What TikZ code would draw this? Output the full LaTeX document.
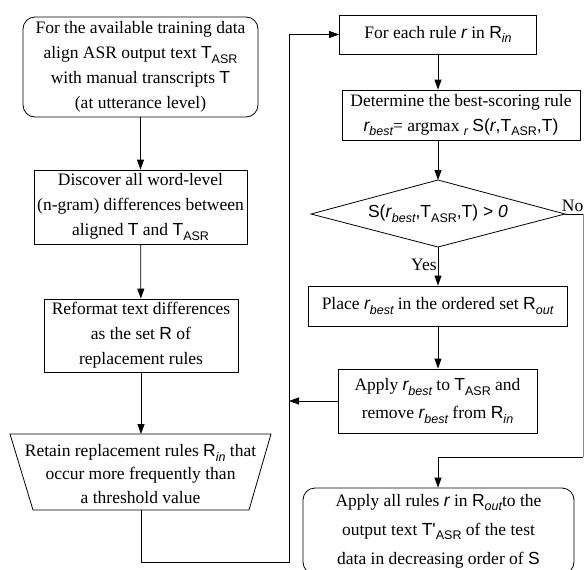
\documentclass[tikz,border=0pt]{standalone}
\usepackage{fontspec}
\setmainfont{Liberation Serif}
\newfontfamily\hw{Liberation Sans}
\usetikzlibrary{arrows.meta}
\newcommand\mainsize{\fontsize{17.5}{25}\selectfont}
\newcommand\sbx[1]{\lower0.5ex\hbox{\fontsize{12.5}{12.5}\selectfont #1}}
\newcommand\Tv{{\hw T}}
\newcommand\TASR{{\hw T\sbx{ASR}}}
\newcommand\Rv{{\hw R}}
\newcommand\Rin{{\hw R\sbx{\itshape in}}}
\newcommand\Rout{{\hw R\sbx{\itshape out}}}
\newcommand\rv{{\hw\itshape r}}
\newcommand\rbest{{\hw\itshape r\sbx{best}}}
\newcommand\Sv{{\hw S}}
\tikzset{
  box/.style={draw, line width=0.8pt, align=center, inner sep=0pt, font=\mainsize},
  rbox/.style={box, rounded corners=12pt},
  txt/.style={align=center, inner sep=0pt, font=\mainsize},
  lbl/.style={inner sep=1pt, font=\mainsize},
  arr/.style={-{Triangle[length=10pt,width=7pt]}, line width=0.8pt},
  ln/.style={line width=0.8pt}
}
\begin{document}
\begin{tikzpicture}[x=1pt,y=-1pt]
\clip (0,0) rectangle (584,570);
\useasboundingbox (0,0) rectangle (584,570);
% left column
\node[rbox, minimum width=235pt, minimum height=100pt] (b1) at (140.5,67)
  {For the available training data\\ align ASR output text \TASR\\ with manual transcripts \Tv\\ (at utterance level)};
\node[box, minimum width=213pt, minimum height=74pt] (b2) at (140.5,207)
  {Discover all word-level\\ (n-gram) differences between\\ aligned \Tv{} and \TASR};
\node[box, minimum width=194pt, minimum height=73pt] (b3) at (141,335.5)
  {Reformat text differences\\ as the set \Rv{} of\\ replacement rules};
\coordinate (tA) at (10,434);
\coordinate (tB) at (271,434);
\coordinate (tC) at (249,510);
\coordinate (tD) at (33,510);
\coordinate (tN) at (141,434);
\coordinate (tS) at (141,510);
\draw[ln] (tA) -- (tB) -- (tC) -- (tD) -- cycle;
\node[txt, font=\fontsize{17.5}{23.5}\selectfont] (trap) at (140.5,474)
  {Retain replacement rules \Rin{} that\\ occur more frequently than\\ a threshold value};
% right column
\node[box, minimum width=197pt, minimum height=39pt] (b4) at (438,34.5)
  {For each rule \rv{} in \Rin};
\node[box, minimum width=238pt, minimum height=50pt] (b5) at (461,115)
  {Determine the best-scoring rule\\ \rbest= argmax \sbx{\hw\itshape r} {\hw S(\textit{r},T\sbx{ASR},T)}};
\coordinate (dN) at (438,180);
\coordinate (dS) at (438,247);
\coordinate (dW) at (311,214);
\coordinate (dE) at (565,214);
\draw[ln] (dN) -- (dE) -- (dS) -- (dW) -- cycle;
\node[txt] (dia) at (438,214) {{\hw S(\textit{r}\sbx{\itshape best},T\sbx{ASR},T) > \textit{0}}};
\node[box, minimum width=259pt, minimum height=40pt] (b6) at (437.5,306)
  {Place \rbest{} in the ordered set \Rout};
\node[box, minimum width=199pt, minimum height=64pt, font=\fontsize{17.5}{28}\selectfont] (b7) at (437.5,401)
  {Apply \rbest{} to \TASR{} and\\ remove \rbest{} from \Rin};
\node[rbox, minimum width=271pt, minimum height=86pt, font=\fontsize{17.5}{29}\selectfont] (b8) at (438.5,531)
  {Apply all rules \rv{} in \Rout{}to the\\ output text {\hw T'\sbx{ASR}} of the test\\ data in decreasing order of \Sv};
% connectors
\draw[arr] (b1) -- (b2);
\draw[arr] (b2) -- (b3);
\draw[arr] (b3.south) -- (tN);
\coordinate (c1) at (141,562);
\coordinate (c2) at (289,562);
\draw[arr] (tS) -- (c1) -- (c2) |- (b4.west);
\draw[arr] (b4.south) -- (b4.south |- b5.north);
\draw[arr] (b4.south |- b5.south) -- (dN);
\draw[arr] (dS) -- node[lbl, left, pos=0.45] {Yes} (b6.north -| dS);
\draw[arr] (b6.south -| dS) -- (b7.north -| dS);
\draw[arr] (b7.west) -- (b7.west -| c2);
\coordinate (e1) at (583,214);
\coordinate (e2) at (583,457);
\coordinate (e3) at (438,457);
\draw[ln] (dE) -- (e1);
\draw[ln, draw=black!45] (e1) -- (e2);
\draw[arr] (e2) -- (e3) -- (b8.north -| e3);
\node[lbl, anchor=south east, inner sep=0pt] (no) at (583.5,212) {No};
\end{tikzpicture}
\end{document}
